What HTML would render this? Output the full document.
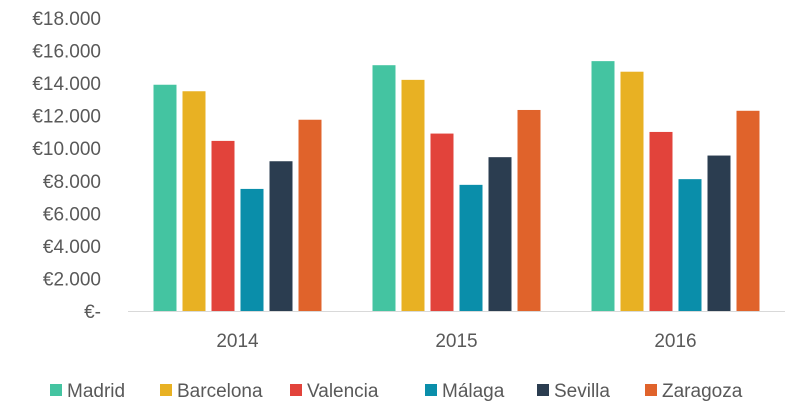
<!DOCTYPE html>
<html><head><meta charset="utf-8"><style>
body{margin:0;background:#fff;}
svg{display:block;font-family:"Liberation Sans",Arial,sans-serif;}
</style></head><body>
<svg id="chart" width="795" height="415"></svg>
<script>
const categories=["2014","2015","2016"];
const seriesNames=["Madrid","Barcelona","Valencia","Málaga","Sevilla","Zaragoza"];
const colors=["#44c4a1","#e8b123","#e2433b","#0a8eaa","#2b3d50","#e0632b"];
const madrid=[13900,15100,15350];
const barcelona=[13500,14200,14700];
const valencia=[10450,10900,11000];
const malaga=[7500,7750,8100];
const sevilla=[9200,9450,9550];
const zaragoza=[11750,12350,12300];
const yTicks=[0,2000,4000,6000,8000,10000,12000,14000,16000,18000];
const yTickLabels=["€-","€2.000","€4.000","€6.000","€8.000","€10.000","€12.000","€14.000","€16.000","€18.000"];
const series=[madrid,barcelona,valencia,malaga,sevilla,zaragoza];
const NS="http://www.w3.org/2000/svg";
const svg=document.getElementById('chart');
const x0=128,x1=785,y0=311,y1=18,yMax=18000;
const y=v=>y0-(v/yMax)*(y0-y1);
const gw=(x1-x0)/categories.length;
const bw=23,gap=6;
function mk(t,a){const e=document.createElementNS(NS,t);for(const k in a)e.setAttribute(k,a[k]);svg.appendChild(e);return e;}
yTicks.forEach((t,i)=>{
 const e=mk('text',{x:101,y:y(t)+7,'text-anchor':'end','font-size':19,fill:'#595959'});
 
 
 e.textContent=yTickLabels[i];
});
const ax=mk('line',{x1:x0,x2:x1,y1:y0+0.5,y2:y0+0.5,stroke:'#d9d9d9','stroke-width':1});


categories.forEach((c,ci)=>{
 const cx=x0+gw*(ci+0.5);
 const total=series.length*bw+(series.length-1)*gap;
 series.forEach((s,si)=>{
  const bx=cx-total/2+si*(bw+gap);
  const r=mk('rect',{x:bx,y:y(s[ci]),width:bw,height:y0-y(s[ci]),fill:colors[si]});
  
  
 });
 const t=mk('text',{x:cx,y:347,'text-anchor':'middle','font-size':19,fill:'#595959'});
 
 
 t.textContent=c;
});
const lx=[50,160,290,425,537,645];
seriesNames.forEach((n,i)=>{
 const r=mk('rect',{x:lx[i],y:384,width:12,height:12,fill:colors[i]});
 
 
 const t=mk('text',{x:lx[i]+17,y:397,'font-size':19,fill:'#595959'});
 
 
 t.textContent=n;
});
</script>
</body></html>
